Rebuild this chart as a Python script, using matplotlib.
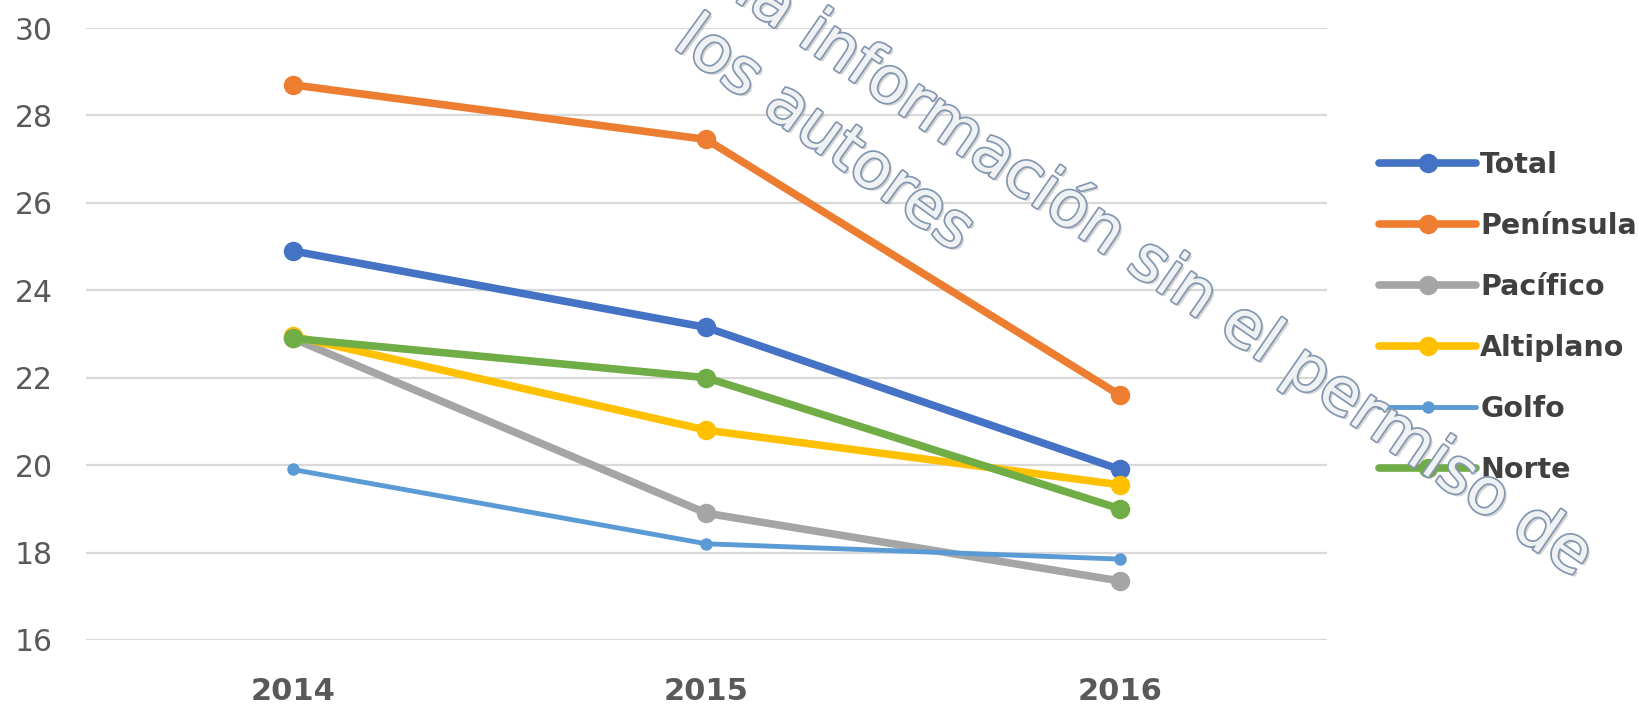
import matplotlib
matplotlib.use('Agg')
import matplotlib.pyplot as plt
import matplotlib.patheffects as pe
import numpy as np

# data
years = ['2014', '2015', '2016']
series_names = ['Total', 'Península', 'Pacífico', 'Altiplano', 'Golfo', 'Norte']
total = [24.9, 23.15, 19.9]
peninsula = [28.7, 27.45, 21.6]
pacifico = [22.9, 18.9, 17.35]
altiplano = [22.95, 20.8, 19.55]
golfo = [19.9, 18.2, 17.85]
norte = [22.9, 22.0, 19.0]
colors = ['#4472C4', '#ED7D31', '#A5A5A5', '#FFC000', '#5B9BD5', '#70AD47']
yticks = [16, 18, 20, 22, 24, 26, 28, 30]

fig = plt.figure(figsize=(16.38, 7.11), dpi=100)
ax = fig.add_axes([0.0525, 0.0999, 0.7575, 0.8607])

x = np.arange(len(years))
all_series = [total, peninsula, pacifico, altiplano, golfo, norte]
for name, vals, c in zip(series_names, all_series, colors):
    if name == 'Golfo':
        ax.plot(x, vals, color=c, lw=3.5, marker='o', ms=8, label=name, solid_capstyle='round', zorder=3)
    else:
        ax.plot(x, vals, color=c, lw=5.5, marker='o', ms=13, label=name, solid_capstyle='round', zorder=3)

ax.set_xlim(-0.5, 2.5)
ax.set_ylim(16, 30)
ax.set_yticks(yticks)
ax.set_xticks(x)
ax.set_xticklabels(years, fontsize=22, fontweight='bold', color='#595959')
ax.tick_params(axis='y', length=0, pad=24, labelsize=21.5, labelcolor='#595959')
ax.tick_params(axis='x', length=0, pad=27)
ax.grid(axis='y', color='#D9D9D9', lw=1.6)
ax.set_axisbelow(True)
for s in ax.spines.values():
    s.set_visible(False)

leg = ax.legend(loc='center left', bbox_to_anchor=(0.835, 0.553), bbox_transform=fig.transFigure,
                frameon=False, handlelength=3.4, handletextpad=0.15, labelspacing=1.16,
                prop={'size': 20.5, 'weight': 'bold'}, borderaxespad=0)
for t in leg.get_texts():
    t.set_color('#404040')

# watermark
wm_fx = [pe.SimplePatchShadow(offset=(2, -2), shadow_rgbFace='#888888', alpha=0.35),
         pe.Stroke(linewidth=2.5, foreground='#8497B0'), pe.Normal()]
fig.text(0.447, 1.002, 'la información sin el permiso de', rotation=-34.5, rotation_mode='anchor',
         ha='left', va='baseline', fontsize=46, color='#F0F1F3', path_effects=wm_fx, zorder=10)
fig.text(0.410, 0.935, 'los autores', rotation=-36, rotation_mode='anchor',
         ha='left', va='baseline', fontsize=46, color='#F0F1F3', path_effects=wm_fx, zorder=10)

fig.savefig('out.png', dpi=100)
